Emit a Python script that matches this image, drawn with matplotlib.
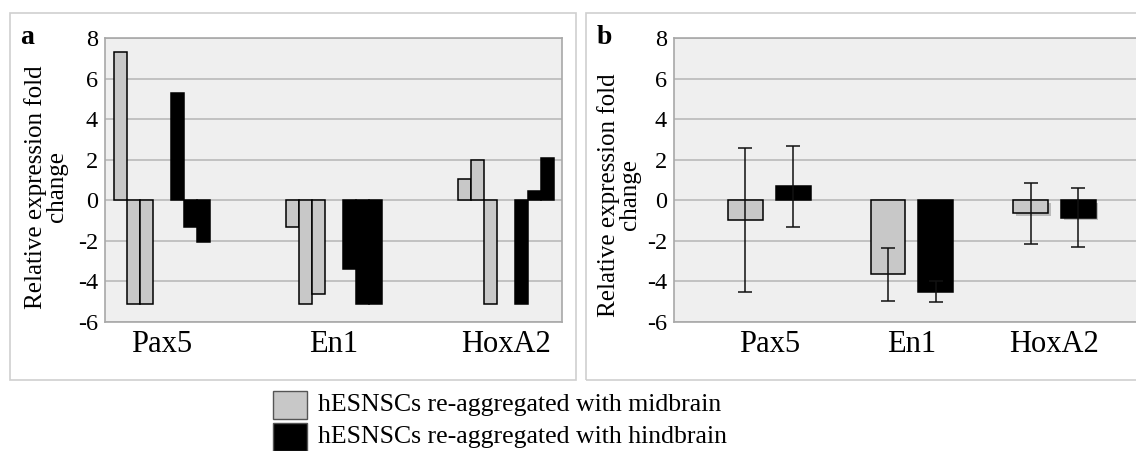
import numpy as np
import matplotlib
matplotlib.use('Agg')
from matplotlib import pyplot as plt
from matplotlib.patches import Rectangle
import matplotlib.patheffects as pe

plt.rcParams['font.family'] = ['Liberation Serif', 'DejaVu Serif']

genes = ['Pax5', 'En1', 'HoxA2']
series_names = ['hESNSCs re-aggregated with midbrain',
                'hESNSCs re-aggregated with hindbrain']
series_colors = ['#c8c8c8', '#000000']

# panel a: three replicates per gene
mid_a = [[7.3, -5.1, -5.1], [-1.3, -5.1, -4.6], [1.05, 2.0, -5.1]]
hind_a = [[5.3, -1.3, -2.05], [-3.4, -5.1, -5.1], [-5.1, 0.45, 2.1]]

# panel b: mean and error
mid_b = [-0.95, -3.65, -0.65]
mid_b_err = [3.55, 1.32, 1.5]
hind_b = [0.68, -4.5, -0.85]
hind_b_err = [2.02, 0.5, 1.45]

yticks = [-6, -4, -2, 0, 2, 4, 6, 8]

W, H = 1136, 451
fig = plt.figure(figsize=(W / 100, H / 100), dpi=100)

# panel frames
for x0, x1 in [(10, 576), (586, 1145)]:
    fig.patches.append(Rectangle((x0 / W, 1 - 380 / H), (x1 - x0) / W, 367 / H,
                                 transform=fig.transFigure, fill=False,
                                 edgecolor='#cfcfcf', linewidth=1.2))


def style_axes(ax):
    ax.set_facecolor('#efefef')
    ax.set_ylim(-6, 8)
    ax.set_yticks(yticks)
    ax.set_yticklabels([str(t) for t in yticks], fontsize=17.5)
    ax.yaxis.grid(True, color='#b5b5b5', linewidth=1.1)
    ax.set_axisbelow(True)
    for s in ax.spines.values():
        s.set_color('#a8a8a8')
        s.set_linewidth(1.2)
    ax.tick_params(axis='both', length=0)
    ax.tick_params(axis='y', pad=5)
    ax.tick_params(axis='x', pad=6, labelsize=22)


x = np.arange(len(genes))

# ---- panel a
axa = fig.add_axes([105 / W, 1 - 322 / H, 457 / W, 284 / H])
style_axes(axa)
bw = 0.0756
for gi in range(len(genes)):
    for k in range(3):
        axa.bar(x[gi] - 0.241 + k * bw, mid_a[gi][k], bw, color=series_colors[0],
                edgecolor='black', linewidth=1.1)
        axa.bar(x[gi] + 0.090 + k * bw, hind_a[gi][k], bw, color=series_colors[1],
                edgecolor='black', linewidth=1.1)
axa.set_xlim(-0.331, 2.326)
axa.set_xticks(x)
axa.set_xticklabels(genes)

# ---- panel b
axb = fig.add_axes([674 / W, 1 - 322 / H, (W - 674) / W, 284 / H])
style_axes(axb)
axb.spines['right'].set_visible(False)
bw2 = 0.245
bars_m = axb.bar(x - 0.167, mid_b, bw2, color=series_colors[0], edgecolor='black',
                 linewidth=1.1)
bars_h = axb.bar(x + 0.167, hind_b, bw2, color=series_colors[1], edgecolor='black',
                 linewidth=1.1)
for b in [bars_m[2], bars_h[2]]:
    b.set_path_effects([pe.SimplePatchShadow(offset=(2, -2), shadow_rgbFace='#999999',
                                             alpha=0.6), pe.Normal()])
axb.errorbar(x - 0.167, mid_b, yerr=mid_b_err, fmt='none', ecolor='#111111',
             elinewidth=1.1, capsize=5, capthick=1.1)
axb.errorbar(x + 0.167, hind_b, yerr=hind_b_err, fmt='none', ecolor='#111111',
             elinewidth=1.1, capsize=5, capthick=1.1)
axb.set_xlim(-0.668, 2.572)
axb.set_xticks(x)
axb.set_xticklabels(genes)

# y labels and panel letters
for xc, yc in [(46, 187), (619, 195)]:
    fig.text(xc / W, 1 - yc / H, 'Relative expression fold\nchange', rotation=90,
             ha='center', va='center', multialignment='center', fontsize=18,
             linespacing=0.95)
fig.text(27 / W, 1 - 38 / H, 'a', fontsize=20, fontweight='bold', ha='center', va='center')
fig.text(604 / W, 1 - 37 / H, 'b', fontsize=20, fontweight='bold', ha='center', va='center')

# legend
for i, (name, col) in enumerate(zip(series_names, series_colors)):
    y_top = 391 + i * 32
    fig.patches.append(Rectangle((273 / W, 1 - (y_top + 28) / H), 34 / W, 28 / H,
                                 transform=fig.transFigure, facecolor=col,
                                 edgecolor='#555555', linewidth=1.0))
    fig.text(318 / W, 1 - (y_top + 14) / H, name, fontsize=18.5, ha='left', va='center')

fig.savefig('out.png', dpi=100)
